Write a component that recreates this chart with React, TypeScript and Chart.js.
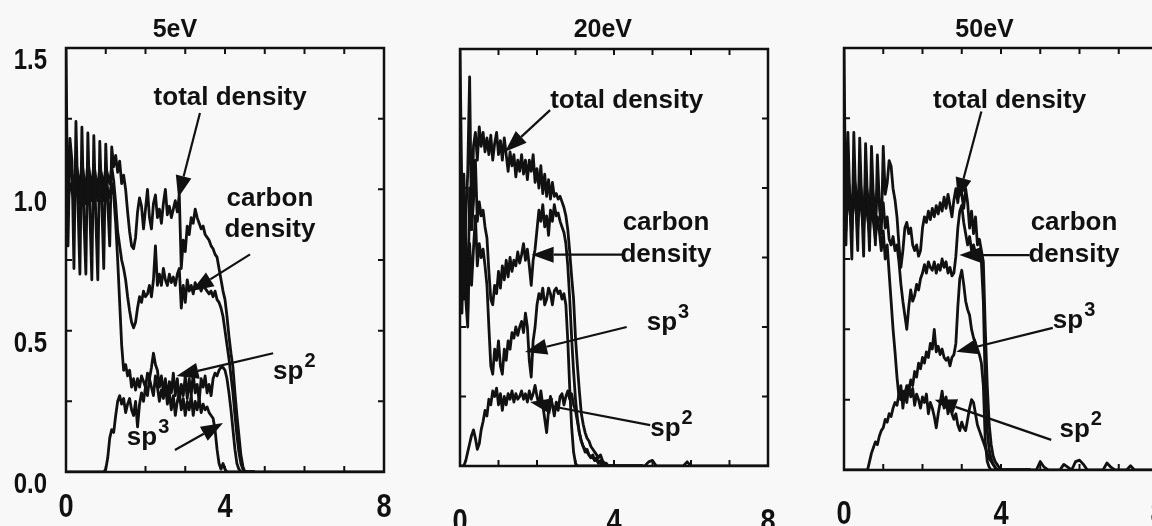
import { useEffect, useRef } from 'react';
import { Chart, registerables } from 'chart.js';

Chart.register(...registerables);

// ---------- sampling grid (depth, step 0.05) ----------
const X_DENSE: number[] = Array.from({ length: 96 }, (_, i) => Math.round(i * 5) / 100);
const X_TAIL: number[] = Array.from({ length: 33 }, (_, i) => Math.round(480 + i * 10) / 100);

const TITLES = ['5eV', '20eV', '50eV'];
const X_TICK_LABELS = [0, 4, 8];
const Y_TICK_LABELS = [0, 0.5, 1.0, 1.5];

// ---------- 5 eV ----------
const TOTAL_5EV = [
  1.50, 0.80, 1.18, 1.10, 0.72, 1.24, 0.95, 0.70, 1.22, 0.90,
  0.70, 1.20, 0.92, 0.68, 1.19, 0.90, 0.68, 1.17, 0.95, 0.72,
  1.16, 0.95, 0.80, 1.15, 1.08, 1.12, 1.06, 1.10, 1.02, 1.05,
  1.00, 0.92, 0.85, 0.80, 0.79, 0.83, 0.92, 0.97, 0.94, 0.86,
  0.93, 1.00, 0.90, 0.86, 0.95, 0.98, 0.90, 0.93, 0.88, 0.95,
  1.00, 0.91, 0.94, 0.90, 0.93, 0.96, 0.92, 0.98, 0.72, 0.82,
  0.78, 0.87, 0.84, 0.90, 0.88, 0.93, 0.90, 0.88, 0.86, 0.87,
  0.84, 0.83, 0.82, 0.80, 0.79, 0.77, 0.76, 0.72, 0.68, 0.64,
  0.61, 0.55, 0.48, 0.42, 0.37, 0.28, 0.20, 0.13, 0.06, 0.02,
  0, 0, 0, 0, 0, 0,
];
const TOTAL_TAIL_5EV = [
  0, 0, 0, 0, 0, 0, 0, 0, 0, 0, 0, 0, 0, 0, 0, 0, 0,
  0, 0, 0, 0, 0, 0, 0, 0, 0, 0, 0, 0, 0, 0, 0, 0,
];
const CARBON_5EV = [
  1.10, 1.00, 1.08, 1.05, 1.00, 1.10, 1.05, 1.00, 1.10, 1.04,
  1.00, 1.10, 1.05, 1.00, 1.09, 1.04, 1.00, 1.08, 1.05, 1.00,
  1.08, 1.05, 1.02, 1.08, 1.03, 0.95, 0.85, 0.80, 0.75, 0.72,
  0.68, 0.62, 0.57, 0.53, 0.51, 0.53, 0.58, 0.62, 0.60, 0.64,
  0.62, 0.63, 0.66, 0.62, 0.68, 0.80, 0.66, 0.70, 0.66, 0.72,
  0.68, 0.66, 0.70, 0.67, 0.69, 0.66, 0.70, 0.72, 0.58, 0.66,
  0.60, 0.68, 0.64, 0.66, 0.63, 0.67, 0.65, 0.66, 0.64, 0.66,
  0.65, 0.64, 0.63, 0.64, 0.62, 0.64, 0.61, 0.60, 0.58, 0.55,
  0.50, 0.45, 0.40, 0.34, 0.28, 0.20, 0.13, 0.07, 0.03, 0.01,
  0, 0, 0, 0, 0, 0,
];
const SP2_5EV = [
  1.00, 0.95, 1.02, 1.00, 0.95, 1.04, 1.00, 0.95, 1.05, 1.00,
  0.95, 1.04, 1.00, 0.96, 1.04, 1.00, 0.96, 1.03, 1.00, 0.96,
  1.03, 1.00, 0.97, 1.02, 0.98, 0.88, 0.75, 0.60, 0.45, 0.36,
  0.38, 0.34, 0.36, 0.30, 0.33, 0.29, 0.33, 0.30, 0.34, 0.32,
  0.30, 0.35, 0.33, 0.37, 0.42, 0.38, 0.36, 0.30, 0.34, 0.28,
  0.33, 0.26, 0.32, 0.28, 0.35, 0.27, 0.33, 0.25, 0.31, 0.27,
  0.34, 0.26, 0.33, 0.27, 0.35, 0.28, 0.31, 0.25, 0.33, 0.30,
  0.34, 0.28, 0.31, 0.27, 0.33, 0.35, 0.34, 0.36, 0.37, 0.37,
  0.36, 0.33, 0.28, 0.22, 0.15, 0.08, 0.03, 0.01, 0, 0,
  0, 0, 0, 0, 0, 0,
];
const SP3_5EV = [
  0, 0, 0, 0, 0, 0, 0, 0, 0, 0,
  0, 0, 0, 0, 0, 0, 0, 0, 0, 0,
  0.01, 0.05, 0.12, 0.15, 0.14, 0.20, 0.25, 0.27, 0.24, 0.26,
  0.21, 0.24, 0.26, 0.22, 0.20, 0.25, 0.16, 0.24, 0.28, 0.25,
  0.30, 0.27, 0.33, 0.30, 0.27, 0.34, 0.30, 0.25, 0.29, 0.26,
  0.31, 0.24, 0.28, 0.22, 0.27, 0.20, 0.25, 0.28, 0.22, 0.26,
  0.20, 0.25, 0.22, 0.27, 0.20, 0.25, 0.22, 0.26, 0.21, 0.24,
  0.22, 0.23, 0.21, 0.20, 0.19, 0.15, 0.08, 0.03, 0.01, 0.03,
  0.01, 0, 0, 0, 0, 0, 0, 0, 0, 0,
  0, 0, 0, 0, 0, 0,
];

// ---------- 20 eV ----------
const TOTAL_20EV = [
  1.50, 0.95, 0.60, 0.90, 1.05, 1.40, 0.85, 1.15, 1.20, 1.10,
  1.22, 1.15, 1.20, 1.13, 1.18, 1.12, 1.19, 1.10, 1.16, 1.20,
  1.12, 1.17, 1.10, 1.18, 1.12, 1.06, 1.13, 1.08, 1.12, 1.04,
  1.10, 1.06, 1.12, 1.05, 1.10, 1.03, 1.10, 1.06, 1.12, 1.02,
  1.07, 1.00, 1.08, 0.98, 1.05, 0.97, 1.03, 0.96, 1.02, 0.97,
  0.98, 0.96, 0.97, 0.95, 0.93, 0.90, 0.85, 0.77, 0.68, 0.60,
  0.46, 0.36, 0.27, 0.19, 0.15, 0.12, 0.10, 0.09, 0.07, 0.06,
  0.05, 0.04, 0.03, 0.04, 0.02, 0.01, 0.01, 0, 0, 0,
  0, 0, 0, 0, 0, 0, 0, 0, 0, 0,
  0, 0, 0, 0, 0, 0,
];
const TOTAL_TAIL_20EV = [
  0, 0.015, 0.02, 0, 0, 0, 0, 0, 0, 0, 0, 0.015, 0, 0, 0, 0, 0,
  0, 0, 0, 0, 0, 0, 0, 0, 0, 0, 0, 0, 0, 0, 0, 0,
];
const CARBON_20EV = [
  1.30, 0.75, 1.05, 0.80, 0.55, 1.00, 0.85, 0.95, 1.10, 0.88,
  0.95, 0.90, 0.92, 0.86, 0.82, 0.70, 0.60, 0.58, 0.65, 0.62,
  0.70, 0.64, 0.72, 0.67, 0.74, 0.68, 0.75, 0.70, 0.74, 0.72,
  0.77, 0.73, 0.76, 0.80, 0.74, 0.78, 0.72, 0.65, 0.74, 0.78,
  0.85, 0.92, 0.88, 0.94, 0.86, 0.90, 0.83, 0.92, 0.88, 0.94,
  0.90, 0.91, 0.88, 0.86, 0.84, 0.80, 0.72, 0.60, 0.46, 0.34,
  0.24, 0.17, 0.12, 0.09, 0.07, 0.06, 0.05, 0.04, 0.03, 0.03,
  0.02, 0.02, 0.01, 0.01, 0, 0, 0, 0, 0, 0,
  0, 0, 0, 0, 0, 0, 0, 0, 0, 0,
  0, 0, 0, 0, 0, 0,
];
const SP3_20EV = [
  0.90, 0.55, 0.85, 0.60, 0.50, 0.80, 0.65, 0.78, 0.90, 0.72,
  0.80, 0.75, 0.78, 0.72, 0.65, 0.50, 0.36, 0.33, 0.42, 0.38,
  0.45, 0.36, 0.33, 0.42, 0.38, 0.45, 0.42, 0.48, 0.46, 0.50,
  0.47, 0.50, 0.52, 0.48, 0.55, 0.50, 0.38, 0.32, 0.45, 0.50,
  0.58, 0.62, 0.60, 0.64, 0.58, 0.60, 0.64, 0.62, 0.58, 0.63,
  0.64, 0.62, 0.63, 0.60, 0.62, 0.58, 0.45, 0.28, 0.14, 0.05,
  0.01, 0, 0, 0, 0, 0, 0, 0, 0, 0,
  0, 0, 0, 0, 0, 0, 0, 0, 0, 0,
  0, 0, 0, 0, 0, 0, 0, 0, 0, 0,
  0, 0, 0, 0, 0, 0,
];
const SP2_20EV = [
  0, 0, 0, 0.02, 0.05, 0.08, 0.11, 0.13, 0.10, 0.06,
  0.08, 0.13, 0.16, 0.20, 0.18, 0.24, 0.22, 0.27, 0.25, 0.28,
  0.22, 0.26, 0.20, 0.25, 0.22, 0.26, 0.24, 0.27, 0.23, 0.26,
  0.24, 0.25, 0.27, 0.24, 0.26, 0.23, 0.27, 0.24, 0.26, 0.29,
  0.25, 0.22, 0.27, 0.22, 0.17, 0.12, 0.20, 0.25, 0.22, 0.18,
  0.23, 0.20, 0.25, 0.26, 0.22, 0.25, 0.27, 0.24, 0.26, 0.22,
  0.20, 0.16, 0.12, 0.09, 0.07, 0.05, 0.06, 0.04, 0.03, 0.04,
  0.02, 0.03, 0.01, 0.02, 0.01, 0, 0, 0, 0, 0,
  0, 0, 0, 0, 0, 0, 0, 0, 0, 0,
  0, 0, 0, 0, 0, 0,
];

// ---------- 50 eV ----------
const TOTAL_50EV = [
  1.50, 0.80, 1.20, 0.95, 0.75, 1.20, 0.95, 0.78, 1.18, 0.95,
  0.76, 1.16, 0.95, 0.78, 1.15, 0.96, 0.80, 1.12, 0.95, 0.84,
  1.15, 0.98, 1.02, 1.10, 1.08, 1.00, 0.96, 0.90, 0.80, 0.72,
  0.78, 0.86, 0.88, 0.84, 0.86, 0.80, 0.78, 0.80, 0.76, 0.78,
  0.86, 0.90, 0.88, 0.92, 0.89, 0.93, 0.90, 0.94, 0.91, 0.95,
  0.92, 0.97, 0.93, 0.98, 0.94, 0.90, 0.96, 1.00, 0.95, 1.02,
  0.98, 0.93, 1.00, 0.95, 0.86, 0.92, 0.84, 0.90, 0.80, 0.82,
  0.78, 0.74, 0.50, 0.30, 0.16, 0.09, 0.05, 0.03, 0.02, 0.01,
  0, 0, 0, 0, 0, 0, 0, 0, 0, 0,
  0, 0, 0, 0, 0, 0,
];
const TOTAL_TAIL_50EV = [
  0, 0, 0.03, 0.01, 0, 0, 0, 0, 0.02, 0.01, 0, 0.03, 0.035, 0.02, 0, 0, 0,
  0, 0, 0.025, 0.01, 0, 0, 0, 0, 0.015, 0, 0, 0, 0, 0, 0, 0,
];
const CARBON_50EV = [
  1.30, 0.90, 1.05, 0.98, 0.90, 1.05, 1.00, 0.92, 1.04, 0.98,
  0.90, 1.03, 0.98, 0.90, 1.02, 0.97, 0.90, 1.00, 0.95, 0.88,
  0.95, 0.86, 0.90, 0.82, 0.80, 0.83, 0.78, 0.80, 0.74, 0.66,
  0.60, 0.55, 0.50, 0.58, 0.64, 0.60, 0.62, 0.66, 0.64, 0.68,
  0.70, 0.73, 0.70, 0.74, 0.72, 0.71, 0.74, 0.70, 0.73, 0.71,
  0.75, 0.72, 0.74, 0.70, 0.72, 0.69, 0.70, 0.76, 0.86, 0.92,
  0.94, 0.88, 0.84, 0.80, 0.83, 0.78, 0.80, 0.77, 0.78, 0.76,
  0.74, 0.60, 0.30, 0.14, 0.07, 0.04, 0.02, 0.01, 0, 0,
  0, 0, 0, 0, 0, 0, 0, 0, 0, 0,
  0, 0, 0, 0, 0, 0,
];
const SP3_50EV = [
  0, 0, 0, 0, 0, 0, 0, 0, 0, 0,
  0, 0, 0, 0.03, 0.06, 0.08, 0.10, 0.09, 0.12, 0.14,
  0.15, 0.18, 0.17, 0.20, 0.19, 0.22, 0.24, 0.23, 0.27, 0.25,
  0.28, 0.27, 0.30, 0.28, 0.32, 0.30, 0.35, 0.33, 0.38, 0.36,
  0.40, 0.38, 0.42, 0.40, 0.45, 0.43, 0.50, 0.42, 0.44, 0.41,
  0.43, 0.40, 0.39, 0.40, 0.37, 0.40, 0.41, 0.45, 0.58, 0.68,
  0.71, 0.66, 0.60, 0.57, 0.55, 0.50, 0.47, 0.45, 0.43, 0.41,
  0.38, 0.30, 0.10, 0.03, 0.01, 0, 0, 0, 0, 0,
  0, 0, 0, 0, 0, 0, 0, 0, 0, 0,
  0, 0, 0, 0, 0, 0,
];
const SP2_50EV = [
  1.20, 0.85, 1.00, 0.92, 0.85, 1.00, 0.93, 0.86, 0.98, 0.92,
  0.85, 0.97, 0.90, 0.84, 0.95, 0.88, 0.82, 0.90, 0.85, 0.78,
  0.85, 0.75, 0.80, 0.70, 0.60, 0.50, 0.42, 0.33, 0.26, 0.30,
  0.22, 0.28, 0.24, 0.30, 0.26, 0.29, 0.23, 0.27, 0.25, 0.22,
  0.26, 0.24, 0.27, 0.20, 0.24, 0.22, 0.19, 0.15, 0.20, 0.24,
  0.28, 0.22, 0.26, 0.20, 0.23, 0.20, 0.18, 0.20, 0.16, 0.14,
  0.17, 0.15, 0.14, 0.18, 0.22, 0.25, 0.24, 0.20, 0.16, 0.14,
  0.12, 0.10, 0.08, 0.06, 0.04, 0.03, 0.02, 0.01, 0, 0,
  0, 0, 0, 0, 0, 0, 0, 0, 0, 0,
  0, 0, 0, 0, 0, 0,
];

// ---------- annotations (data coordinates) ----------
type Note = { text: string; sup?: string; x: number; y: number; align: 'left' | 'center' };
type Arrow = [number, number, number, number];

const NOTES_5EV: Note[] = [
  { text: 'total density', x: 4.13, y: 1.30, align: 'center' },
  { text: 'carbon', x: 5.13, y: 0.94, align: 'center' },
  { text: 'density', x: 5.13, y: 0.83, align: 'center' },
  { text: 'sp', sup: '2', x: 5.21, y: 0.33, align: 'left' },
  { text: 'sp', sup: '3', x: 1.53, y: 0.095, align: 'left' },
];
const ARROWS_5EV: Arrow[] = [
  [3.37, 1.27, 2.82, 0.97],
  [4.63, 0.77, 3.16, 0.64],
  [5.21, 0.42, 2.78, 0.34],
  [2.74, 0.078, 3.95, 0.173],
];
const NOTES_20EV: Note[] = [
  { text: 'total density', x: 4.33, y: 1.287, align: 'center' },
  { text: 'carbon', x: 5.35, y: 0.849, align: 'center' },
  { text: 'density', x: 5.35, y: 0.735, align: 'center' },
  { text: 'sp', sup: '3', x: 4.85, y: 0.49, align: 'left' },
  { text: 'sp', sup: '2', x: 4.94, y: 0.108, align: 'left' },
];
const ARROWS_20EV: Arrow[] = [
  [2.34, 1.28, 1.17, 1.13],
  [4.24, 0.76, 1.86, 0.76],
  [4.33, 0.50, 1.69, 0.41],
  [4.94, 0.147, 1.82, 0.23],
];
const NOTES_50EV: Note[] = [
  { text: 'total density', x: 4.22, y: 1.286, align: 'center' },
  { text: 'carbon', x: 5.86, y: 0.853, align: 'center' },
  { text: 'density', x: 5.86, y: 0.74, align: 'center' },
  { text: 'sp', sup: '3', x: 5.32, y: 0.505, align: 'left' },
  { text: 'sp', sup: '2', x: 5.49, y: 0.117, align: 'left' },
];
const ARROWS_50EV: Arrow[] = [
  [3.5, 1.274, 2.9, 0.96],
  [4.73, 0.764, 2.94, 0.764],
  [5.32, 0.505, 2.86, 0.42],
  [5.28, 0.107, 2.31, 0.25],
];

// ---------- styling / layout ----------
const INK = '#111111';
const BG = '#f8f8f8';
const SANS = "'Liberation Sans', Arial, Helvetica, sans-serif";
const SQUEEZE = 0.8; // horizontal squeeze of the axis numbers (narrow face)

type Panel = {
  title: string; titleX: number;
  left: number; w: number; yW: number; padR: number; padT: number; xH: number; xPad: number;
  showY: boolean;
  total: number[]; tail: number[]; carbon: number[]; sp2: number[]; sp3: number[];
  notes: Note[]; arrows: Arrow[];
};

const PANELS: Panel[] = [
  { title: TITLES[0], titleX: 2.74, left: 0, w: 400, yW: 66, padR: 16, padT: 48, xH: 54, xPad: 15, showY: true,
    total: TOTAL_5EV, tail: TOTAL_TAIL_5EV, carbon: CARBON_5EV, sp2: SP2_5EV, sp3: SP3_5EV, notes: NOTES_5EV, arrows: ARROWS_5EV },
  { title: TITLES[1], titleX: 3.71, left: 420, w: 380, yW: 40, padR: 32, padT: 49, xH: 60, xPad: 36, showY: false,
    total: TOTAL_20EV, tail: TOTAL_TAIL_20EV, carbon: CARBON_20EV, sp2: SP2_20EV, sp3: SP3_20EV, notes: NOTES_20EV, arrows: ARROWS_20EV },
  { title: TITLES[2], titleX: 3.58, left: 800, w: 400, yW: 44, padR: 42, padT: 48, xH: 56, xPad: 24, showY: false,
    total: TOTAL_50EV, tail: TOTAL_TAIL_50EV, carbon: CARBON_50EV, sp2: SP2_50EV, sp3: SP3_50EV, notes: NOTES_50EV, arrows: ARROWS_50EV },
];

function makeDecor(p: Panel) {
  return {
    id: 'decor',
    // axis numbers are drawn by Chart.js between beforeDraw and beforeDatasetsDraw:
    // squeeze them horizontally around their anchor to mimic the narrow face.
    beforeDraw(chart: any) {
      const ctx = chart.ctx;
      const orig = CanvasRenderingContext2D.prototype.fillText;
      ctx.fillText = function (text: string, x: number, y: number) {
        this.save();
        this.scale(SQUEEZE, 1);
        orig.call(this, text, x / SQUEEZE, y);
        this.restore();
      };
    },
    beforeDatasetsDraw(chart: any) {
      delete chart.ctx.fillText;
    },
    afterDraw(chart: any) {
      const { ctx, chartArea: a, scales } = chart;
      delete ctx.fillText;
      const xs = scales.x;
      const ys = scales.y;
      ctx.save();
      ctx.strokeStyle = INK;
      ctx.fillStyle = INK;
      // frame
      ctx.lineWidth = 2.5;
      ctx.strokeRect(a.left, a.top, a.right - a.left, a.bottom - a.top);
      // inward ticks
      ctx.lineWidth = 2;
      ctx.beginPath();
      for (let v = 0; v <= 8; v += 1) {
        const px = xs.getPixelForValue(v);
        ctx.moveTo(px, a.bottom); ctx.lineTo(px, a.bottom - 6);
        ctx.moveTo(px, a.top); ctx.lineTo(px, a.top + 6);
      }
      for (let k = 0; k <= 6; k++) {
        const py = ys.getPixelForValue(k * 0.25);
        ctx.moveTo(a.left, py); ctx.lineTo(a.left + 6, py);
        ctx.moveTo(a.right, py); ctx.lineTo(a.right - 6, py);
      }
      ctx.stroke();
      // title
      ctx.font = `bold 25px ${SANS}`;
      ctx.textAlign = 'center';
      ctx.textBaseline = 'alphabetic';
      ctx.fillText(p.title, xs.getPixelForValue(p.titleX), 37);
      // notes
      for (const n of p.notes) {
        const px = xs.getPixelForValue(n.x);
        const py = ys.getPixelForValue(n.y);
        ctx.font = `bold 26px ${SANS}`;
        ctx.textAlign = n.align;
        ctx.fillText(n.text, px, py);
        if (n.sup) {
          const wMain = ctx.measureText(n.text).width;
          const sx = n.align === 'left' ? px + wMain + 1 : px + wMain / 2 + 1;
          ctx.font = `bold 20px ${SANS}`;
          ctx.textAlign = 'left';
          ctx.fillText(n.sup, sx, py - 12);
        }
      }
      // arrows
      for (const [x0, y0, x1, y1] of p.arrows) {
        const ax = xs.getPixelForValue(x0), ay = ys.getPixelForValue(y0);
        const bx = xs.getPixelForValue(x1), by = ys.getPixelForValue(y1);
        const ang = Math.atan2(by - ay, bx - ax);
        const L = 22, H = 8;
        const baseX = bx - L * Math.cos(ang), baseY = by - L * Math.sin(ang);
        ctx.lineWidth = 2.2;
        ctx.beginPath();
        ctx.moveTo(ax, ay); ctx.lineTo(baseX, baseY);
        ctx.stroke();
        ctx.beginPath();
        ctx.moveTo(bx, by);
        ctx.lineTo(baseX + H * Math.sin(ang), baseY - H * Math.cos(ang));
        ctx.lineTo(baseX - H * Math.sin(ang), baseY + H * Math.cos(ang));
        ctx.closePath();
        ctx.fill();
      }
      ctx.restore();
    },
  };
}

function series(xs: number[], ys: number[]) {
  return xs.map((x, i) => ({ x, y: ys[i] }));
}

function PanelChart({ p }: { p: Panel }) {
  const ref = useRef<HTMLCanvasElement | null>(null);
  useEffect(() => {
    if (!ref.current) return;
    const lineStyle = {
      borderColor: INK, borderWidth: 2.8, pointRadius: 0, tension: 0,
      borderJoinStyle: 'round' as const, fill: false,
    };
    const chart = new Chart(ref.current, {
      type: 'line',
      data: {
        datasets: [
          { label: 'total density', data: [...series(X_DENSE, p.total), ...series(X_TAIL, p.tail)], ...lineStyle },
          { label: 'carbon density', data: series(X_DENSE, p.carbon), ...lineStyle },
          { label: 'sp3', data: series(X_DENSE, p.sp3), ...lineStyle },
          { label: 'sp2', data: series(X_DENSE, p.sp2), ...lineStyle },
        ],
      },
      options: {
        responsive: false,
        animation: false,
        devicePixelRatio: 1,
        layout: { padding: { left: 0, right: p.padR, top: p.padT, bottom: 0 } },
        plugins: { legend: { display: false }, tooltip: { enabled: false }, title: { display: false } },
        scales: {
          x: {
            type: 'linear', min: 0, max: 8,
            afterFit: (s: any) => { s.height = p.xH; s.paddingLeft = 0; s.paddingRight = 0; },
            afterBuildTicks: (s: any) => { s.ticks = X_TICK_LABELS.map((v) => ({ value: v })); },
            grid: { display: false, drawTicks: false },
            border: { display: false },
            ticks: {
              autoSkip: false, maxRotation: 0, padding: p.xPad, color: INK,
              font: { family: SANS, size: 34, weight: 'bold' },
              callback: (v: any) => String(v),
            },
          },
          y: {
            type: 'linear', min: 0, max: 1.5,
            afterFit: (s: any) => { s.width = p.yW; s.paddingTop = 0; s.paddingBottom = 0; },
            afterBuildTicks: (s: any) => { s.ticks = Y_TICK_LABELS.map((v) => ({ value: v })); },
            grid: { display: false, drawTicks: false },
            border: { display: false },
            ticks: {
              display: p.showY, padding: 19, labelOffset: 13, color: INK,
              font: { family: SANS, size: 30, weight: 'bold' },
              callback: (v: any) => Number(v).toFixed(1),
            },
          },
        },
      } as any,
      plugins: [makeDecor(p)],
    });
    return () => chart.destroy();
  }, [p]);
  return (
    <canvas
      ref={ref}
      width={p.w}
      height={526}
      style={{ position: 'absolute', left: p.left, top: 0, width: p.w, height: 526 }}
    />
  );
}

export default function App() {
  return (
    <div
      style={{
        position: 'fixed', left: 0, top: 0, width: 1152, height: 526,
        overflow: 'hidden', background: BG,
      }}
    >
      {PANELS.map((p, i) => (
        <PanelChart key={i} p={p} />
      ))}
    </div>
  );
}
